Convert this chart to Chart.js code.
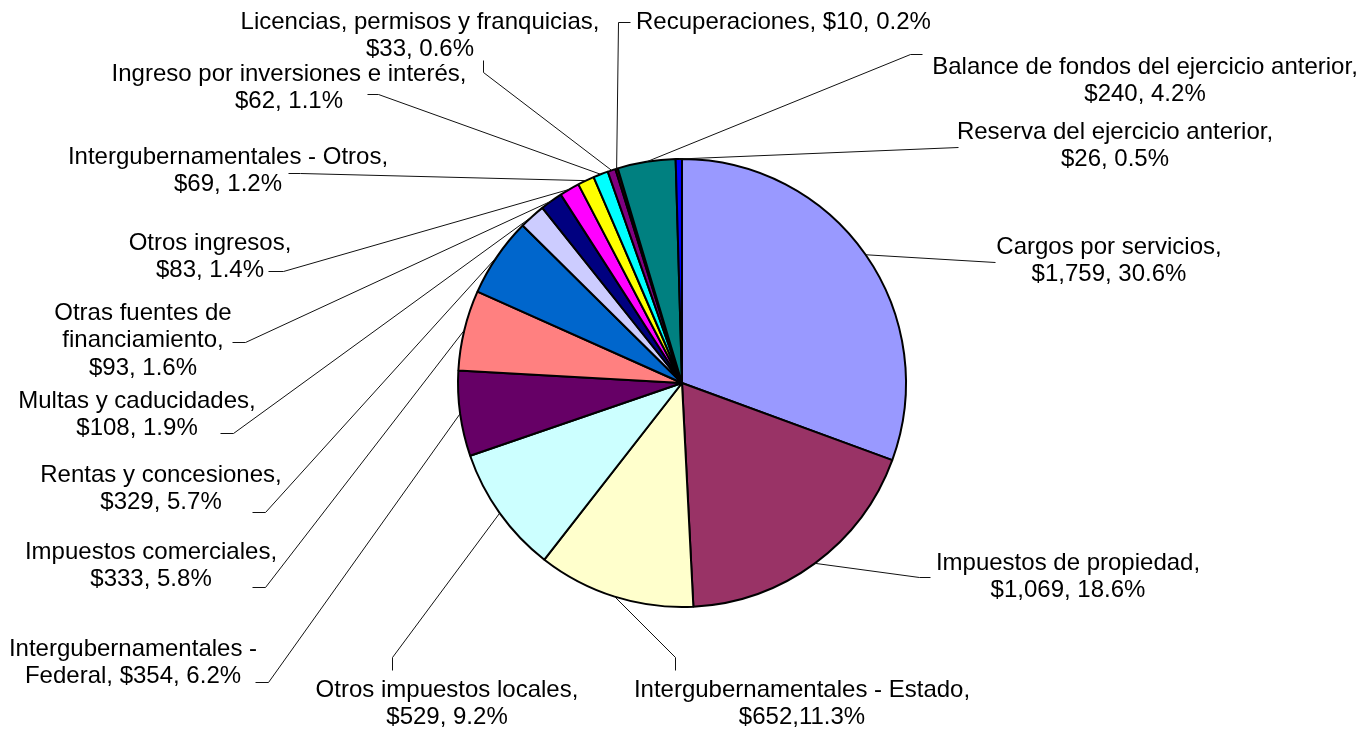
<!DOCTYPE html>
<html>
<head>
<meta charset="utf-8">
<script src="https://cdn.jsdelivr.net/npm/chart.js@4.4.0/dist/chart.umd.min.js"></script>
<style>
  html, body { margin: 0; padding: 0; background: #fff; }
  #wrap { width: 1370px; height: 731px; }
</style>
</head>
<body>
<div id="wrap"><canvas id="revenueChart" width="1370" height="731"></canvas></div>
<script>
// ingresos por fuente (miles de $), en el orden de las porciones
var categories = [
  "Cargos por servicios",
  "Impuestos de propiedad",
  "Intergubernamentales - Estado",
  "Otros impuestos locales",
  "Intergubernamentales - Federal",
  "Impuestos comerciales",
  "Rentas y concesiones",
  "Multas y caducidades",
  "Otras fuentes de financiamiento",
  "Otros ingresos",
  "Intergubernamentales - Otros",
  "Ingreso por inversiones e interés",
  "Licencias, permisos y franquicias",
  "Recuperaciones",
  "Balance de fondos del ejercicio anterior",
  "Reserva del ejercicio anterior"
];
var values = [1759, 1069, 652, 529, 354, 333, 329, 108, 93, 83, 69, 62, 33, 10, 240, 26];
var percents = [30.6, 18.6, 11.3, 9.2, 6.2, 5.8, 5.7, 1.9, 1.6, 1.4, 1.2, 1.1, 0.6, 0.2, 4.2, 0.5];
var sliceColors = [
  "#9999FF", "#993366", "#FFFFCC", "#CCFFFF", "#660066", "#FF8080", "#0066CC", "#CCCCFF",
  "#000080", "#FF00FF", "#FFFF00", "#00FFFF", "#800080", "#800000", "#008080", "#0000FF"
];

// where each label sits and the bends of its leader line
var labelLayout = [
  { x: 1109, y: 247, path: [[995, 262]] },
  { x: 1068, y: 563, path: [[919, 577], [930, 577]] },
  { x: 802, y: 690, path: [[675, 657], [675, 670]], tight: true },
  { x: 447, y: 690, path: [[392, 657], [392, 670]] },
  { x: 133, y: 649, path: [[268, 682], [255, 682]], breakAfter: ["Intergubernamentales -"] },
  { x: 151, y: 552, path: [[265, 587], [252, 587]] },
  { x: 161, y: 475, path: [[265, 512], [252, 512]] },
  { x: 137, y: 401, path: [[233, 433], [220, 433]] },
  { x: 143, y: 313, path: [[245, 342], [232, 342]], breakAfter: ["Otras fuentes de", "financiamiento,"] },
  { x: 210, y: 243, path: [[283, 271], [268, 271]] },
  { x: 228, y: 157, path: [[300, 173], [288, 173]] },
  { x: 289, y: 74, path: [[378, 94], [367, 94]] },
  { x: 420, y: 22, path: [[483, 72], [483, 60]] },
  { x: 636, y: 22, path: [[618, 22], [630, 22]], align: "left", breakAfter: [] },
  { x: 1145, y: 67, path: [[910, 54], [922, 54]] },
  { x: 1115, y: 132, path: [[958, 147]] }
];

var lineHeight = 27.5;

function labelLines(i) {
  var lay = labelLayout[i];
  var text = categories[i] + ", $" + values[i].toLocaleString("en-US") +
    (lay.tight ? "," : ", ") + percents[i].toFixed(1) + "%";
  var breaks = lay.breakAfter || [categories[i] + ","];
  var lines = [];
  breaks.forEach(function (b) {
    var k = text.indexOf(b) + b.length;
    lines.push(text.slice(0, k).trim());
    text = text.slice(k).trim();
  });
  lines.push(text);
  return lines;
}

var leaderLabels = {
  id: "leaderLabels",
  afterDatasetsDraw: function (chart) {
    var ctx = chart.ctx;
    var arcs = chart.getDatasetMeta(0).data;
    ctx.save();
    ctx.strokeStyle = "#111";
    ctx.lineWidth = 1;
    ctx.fillStyle = "#000";
    ctx.font = "24px 'Liberation Sans', Arial, sans-serif";
    ctx.textBaseline = "middle";
    arcs.forEach(function (arc, i) {
      var lay = labelLayout[i];
      var mid = (arc.startAngle + arc.endAngle) / 2;
      ctx.beginPath();
      ctx.moveTo(arc.x + Math.cos(mid) * arc.outerRadius, arc.y + Math.sin(mid) * arc.outerRadius);
      // half-pixel offset keeps the short stubs crisp
      lay.path.forEach(function (p) { ctx.lineTo(p[0] + 0.5, p[1] + 0.5); });
      ctx.stroke();

      ctx.textAlign = lay.align || "center";
      labelLines(i).forEach(function (line, k) {
        ctx.fillText(line, lay.x, lay.y + k * lineHeight);
      });
    });
    ctx.restore();
  }
};

var ctx = document.getElementById("revenueChart").getContext("2d");

var chart = new Chart(ctx, {
  type: "pie",
  data: {
    labels: categories,
    datasets: [{
      data: values,
      backgroundColor: sliceColors,
      borderColor: "#000",
      borderWidth: 2
    }]
  },
  options: {
    responsive: false,
    animation: false,
    radius: 224,
    layout: {
      padding: { left: 400, right: 406, top: 100, bottom: 65 }
    },
    plugins: {
      legend: { display: false },
      tooltip: { enabled: false }
    }
  },
  plugins: [leaderLabels]
});
</script>
</body>
</html>
